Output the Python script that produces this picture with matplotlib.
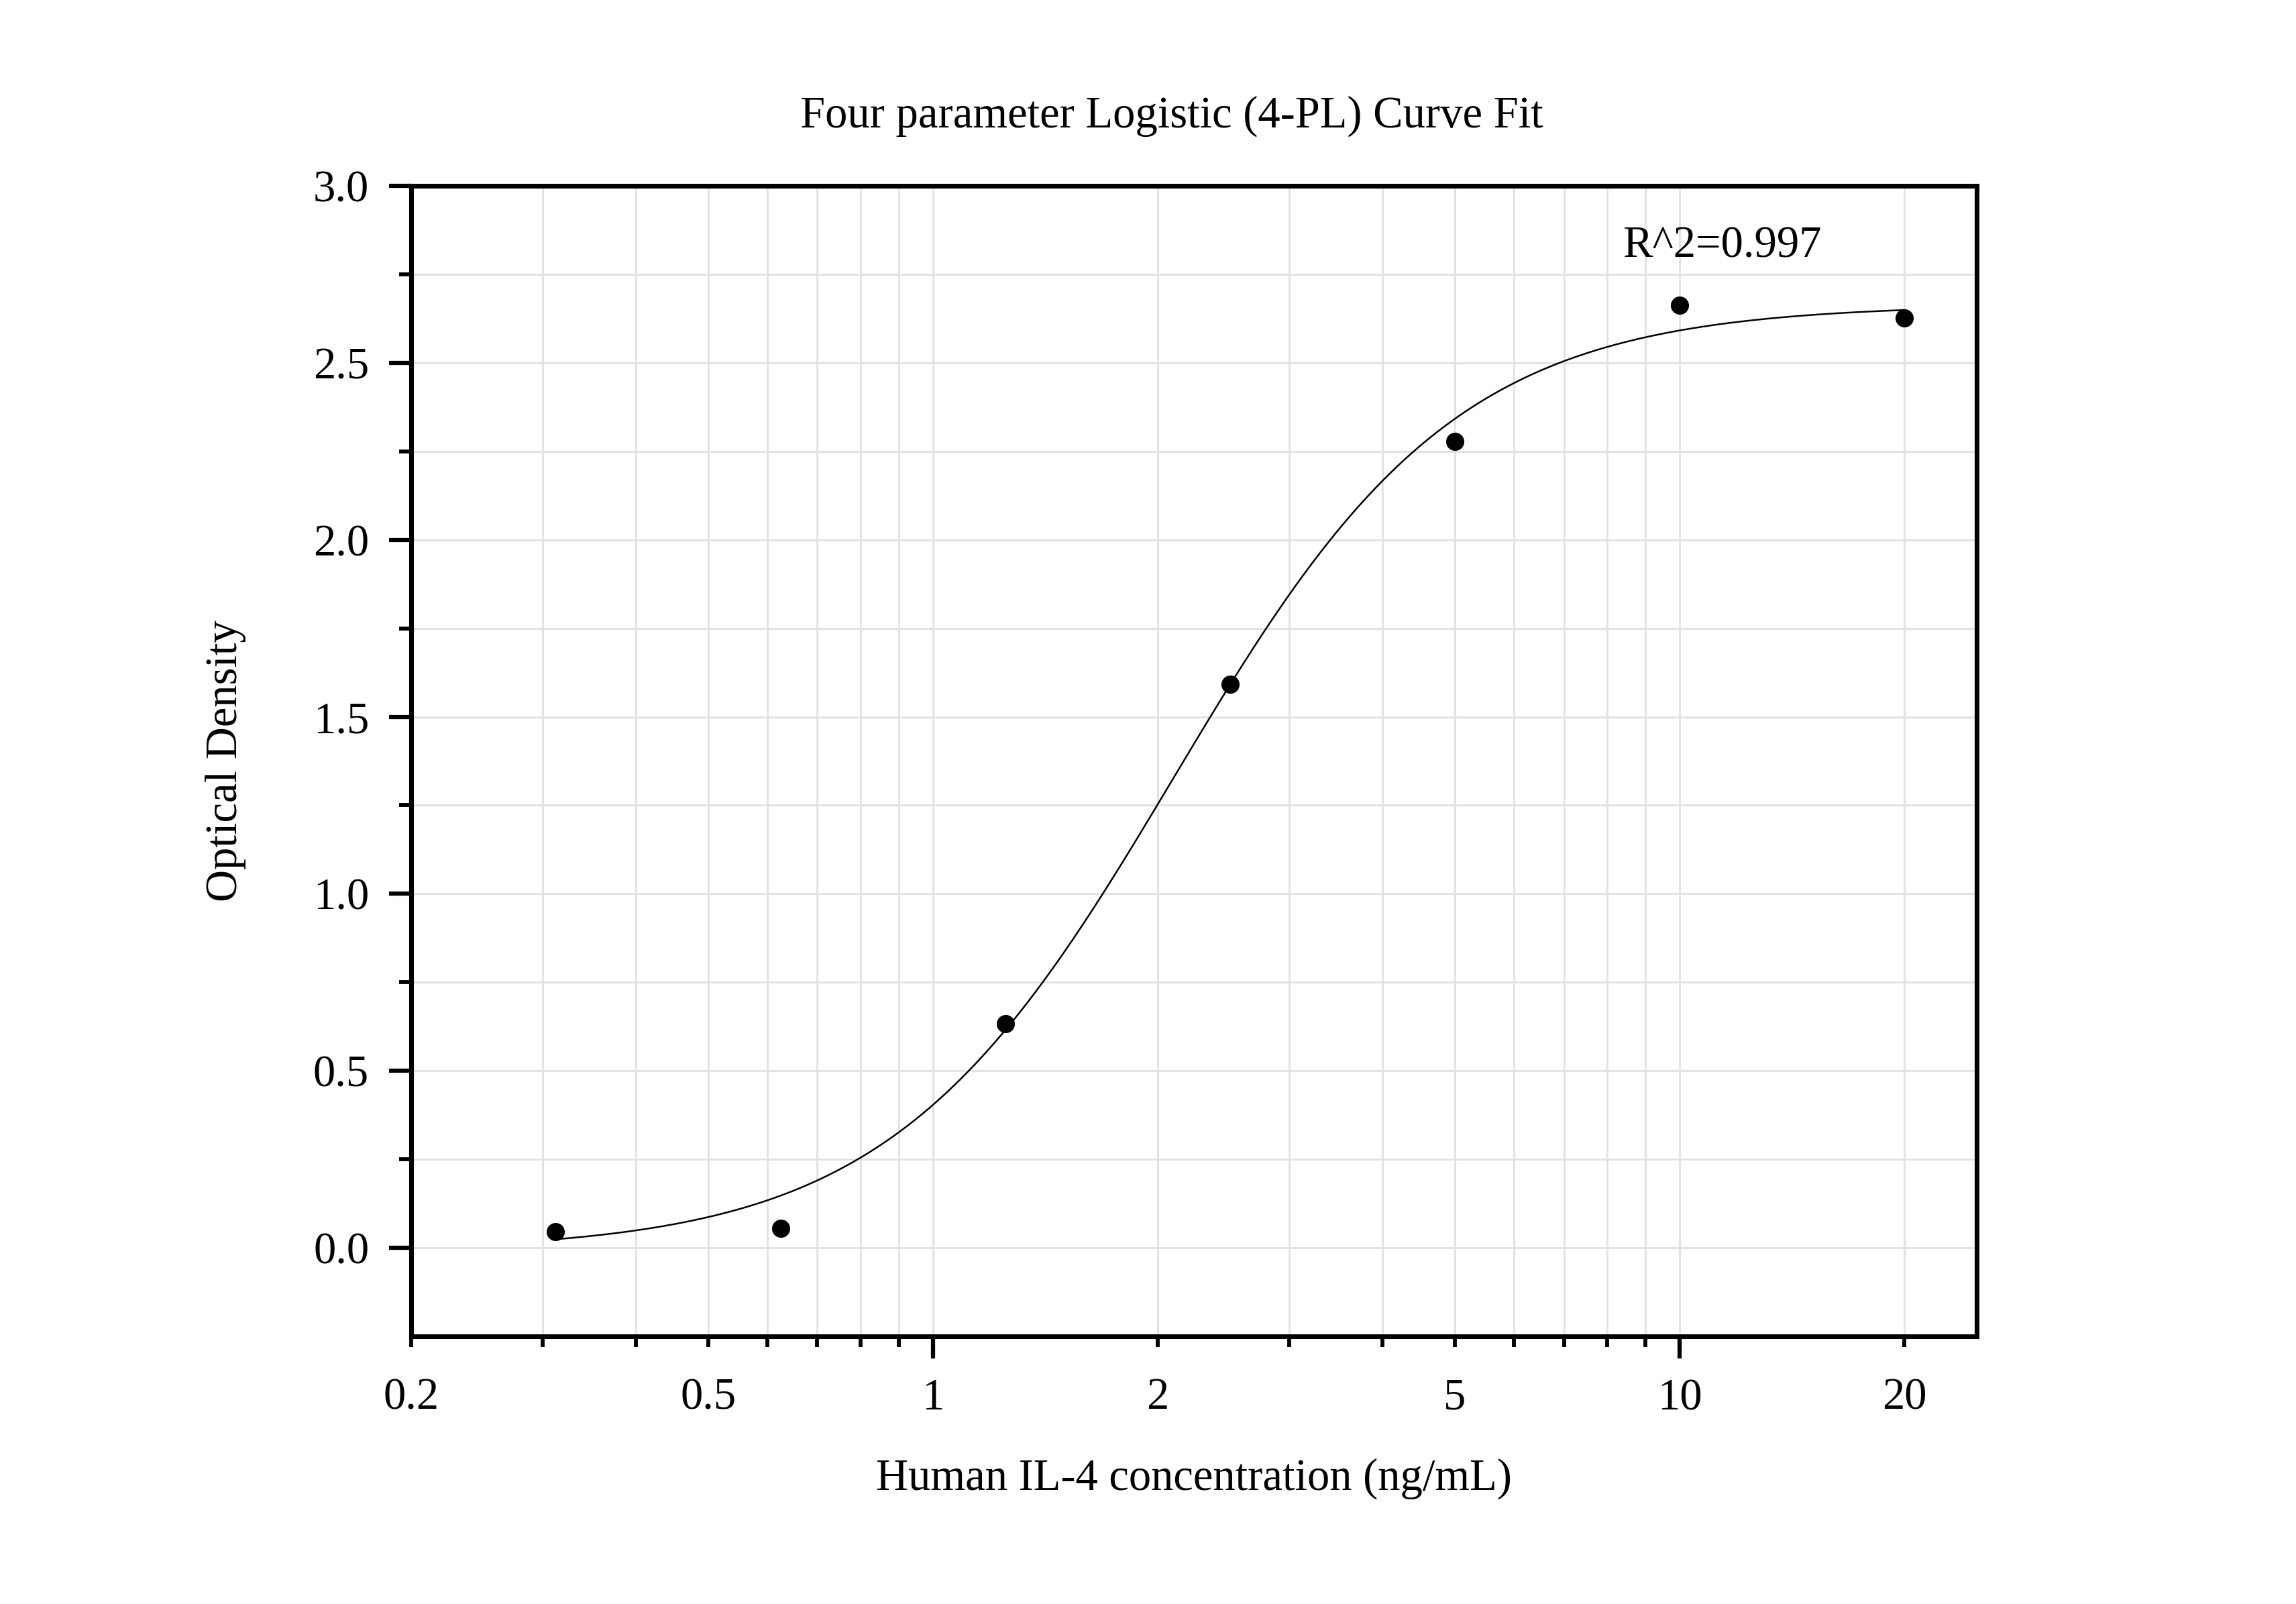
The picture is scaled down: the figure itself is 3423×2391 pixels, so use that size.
import matplotlib
matplotlib.use("Agg")
import matplotlib.pyplot as plt
import numpy as np
from matplotlib.ticker import FixedLocator, FixedFormatter, NullFormatter

# Standard concentrations and measured OD
conc = [0.3125, 0.625, 1.25, 2.5, 5, 10, 20]
od = [0.045, 0.054, 0.633, 1.593, 2.278, 2.664, 2.627]

# 4-PL fit parameters (bottom, top, EC50, slope)
fit_bottom = -0.01
fit_top = 2.665
fit_ec50 = 2.1
fit_slope = 2.29

r2_text = "R^2=0.997"

x_major = [1, 10]
x_minor = [0.2, 0.3, 0.4, 0.5, 0.6, 0.7, 0.8, 0.9,
           2, 3, 4, 5, 6, 7, 8, 9, 20]
x_minor_labels = ["0.2", "", "", "0.5", "", "", "", "",
                  "2", "", "", "5", "", "", "", "", "20"]


def four_pl(x, a, d, c, b):
    return d + (a - d) / (1 + (x / c) ** b)


plt.rcParams['font.family'] = ['Liberation Serif', 'DejaVu Serif']

fig = plt.figure(figsize=(3423 / 300, 2391 / 300), dpi=300)
ax = fig.add_axes([0.179, 0.167, 0.682, 0.717])

xs = np.logspace(np.log10(conc[0]), np.log10(conc[-1]), 400)
ax.plot(xs, four_pl(xs, fit_bottom, fit_top, fit_ec50, fit_slope),
        color='black', lw=0.6, zorder=3)
ax.plot(conc, od, 'o', color='black', ms=5.5, zorder=4)

ax.set_xscale('log')
ax.set_xlim(0.2, 25)
ax.set_ylim(-0.25, 3.0)

ax.xaxis.set_major_locator(FixedLocator(x_major))
ax.xaxis.set_major_formatter(FixedFormatter(["1", "10"]))
ax.xaxis.set_minor_locator(FixedLocator(x_minor))
ax.xaxis.set_minor_formatter(FixedFormatter(x_minor_labels))

ax.yaxis.set_major_locator(FixedLocator(np.arange(0, 3.01, 0.5)))
ax.yaxis.set_major_formatter(FixedFormatter([f"{v:.1f}" for v in np.arange(0, 3.01, 0.5)]))
ax.yaxis.set_minor_locator(FixedLocator(np.arange(0.25, 3.0, 0.5)))
ax.yaxis.set_minor_formatter(NullFormatter())

ax.grid(which='both', color='#e2e2e2', lw=0.7, zorder=0)
ax.set_axisbelow(True)

for sp in ax.spines.values():
    sp.set_linewidth(1.7)

ax.tick_params(which='major', direction='out', length=8, width=1.5,
               labelsize=16, pad=7)
ax.tick_params(axis='x', which='minor', direction='out', length=3.8, width=1.4,
               labelsize=16, pad=11)
ax.tick_params(axis='y', which='minor', direction='out', length=4.3, width=1.4)
ax.tick_params(top=False, right=False, which='both')

ax.set_xlabel("Human IL-4 concentration (ng/mL)", fontsize=16, labelpad=14)
ax.set_ylabel("Optical Density", fontsize=16, labelpad=24)
ax.set_title("Four parameter Logistic (4-PL) Curve Fit", fontsize=16, pad=21, x=0.486)

ax.text(11.4, 2.83, r2_text, fontsize=16, ha='center', va='center')

fig.savefig("out.png", dpi=300)
